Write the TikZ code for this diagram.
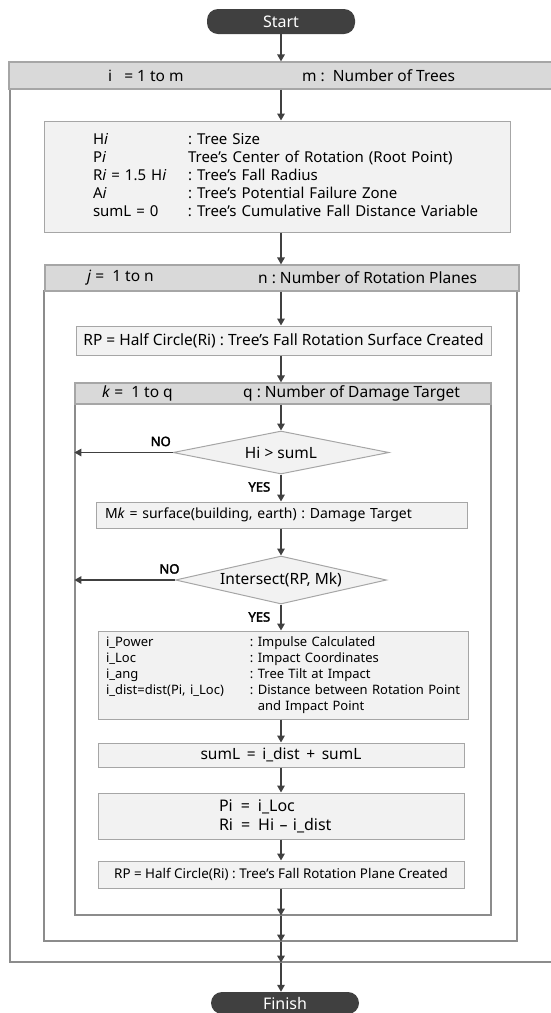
\documentclass[tikz,border=0pt]{standalone}
\usepackage{fontspec}
\setmainfont{Noto Sans}[AutoFakeBold=2.5]
\usetikzlibrary{arrows.meta,positioning,shapes.geometric}
\definecolor{termgray}{HTML}{404040}
\definecolor{hdrgray}{HTML}{D9D9D9}
\definecolor{boxgray}{HTML}{F2F2F2}
\definecolor{edgegray}{HTML}{A6A6A6}
\definecolor{framegray}{HTML}{8C8C8C}
\newcommand{\fs}[2]{\fontsize{#1}{#2}\selectfont}
\frenchspacing

\begin{document}
\begin{tikzpicture}[x=1pt, y=-1pt,
  term/.style={fill=termgray, text=white, rounded corners=11pt,
    minimum width=148pt, minimum height=25pt, inner sep=0pt,
    font=\fs{16}{18}},
  hdr/.style={fill=hdrgray, draw=edgegray, line width=1.2pt, inner sep=0pt},
  loopframe/.style={draw=framegray, line width=1.2pt, inner sep=0pt},
  box/.style={fill=boxgray, draw=edgegray, line width=1pt, inner sep=0pt,
    font=\fs{15}{18}},
  dec/.style={diamond, fill=boxgray, draw=edgegray, line width=1pt,
    inner sep=0pt, aspect=5, font=\fs{15.5}{17}},
  htext/.style={anchor=west, inner sep=0pt, font=\fs{15.5}{17}},
  yn/.style={font=\bfseries\fs{13}{15}, inner sep=1pt},
  flow/.style={draw=termgray, line width=1.6pt,
    -{Triangle[length=7pt, width=7.5pt]}}]
\useasboundingbox (0,0) rectangle (550,1013);
% loop frames
\node[loopframe, minimum width=550pt, minimum height=873pt] (oframe) at (285,525.5) {};
\node[loopframe, minimum width=473pt, minimum height=650pt] (jframe) at (280.5,616) {};
\node[loopframe, minimum width=416pt, minimum height=511pt] (kframe) at (283,659.5) {};
% loop headers
\node[hdr, minimum width=551pt, minimum height=27pt] (ihdr) at (284.5,75.5) {};
\node[htext] (iloop) at (108,75.5) {i\ \ \ =\ 1 to m};
\node[htext] (inum) at (302,75.5) {m :\ \ Number of Trees};
\node[hdr, minimum width=474pt, minimum height=26pt] (jhdr) at (282,278) {};
\node[htext] (jloop) at (87,278) {\textit{j}\ =\ \ 1 to n};
\node[htext] (jnum) at (258,278) {n : Number of Rotation Planes};
\node[hdr, minimum width=416pt, minimum height=21pt] (khdr) at (283,393.5) {};
\node[htext] (kloop) at (102,393.5) {\textit{k}\ =\ \ 1 to q};
\node[htext] (knum) at (243,393.5) {q : Number of Damage Target};
% terminals
\node[term] (start) at (281,21.5) {Start};
\node[term, minimum height=22pt] (finish) at (285,1003) {Finish};
% steps
\node[box, minimum width=466pt, minimum height=111pt, text width=368pt,
  inner xsep=49pt, align=left] (hbox) at (277,176.5) {%
  \begin{tabular}{@{}p{95pt}@{}l@{}}
  H\textit{i} & : Tree Size\\
  P\textit{i} & Tree's Center of Rotation (Root Point)\\
  R\textit{i} = 1.5 H\textit{i} & : Tree's Fall Radius\\
  A\textit{i} & : Tree's Potential Failure Zone\\
  sumL = 0 & : Tree's Cumulative Fall Distance Variable
  \end{tabular}};
\node[box, minimum width=415pt, minimum height=29pt, font=\fs{15.5}{17}]
  (rp) at (283.5,340.5)
  {RP = Half Circle(Ri) : Tree's Fall Rotation Surface Created};
\node[dec, minimum width=216pt, minimum height=43pt] (hisum) at (281,452.5)
  {Hi > sumL};
\node[box, minimum width=371pt, minimum height=26pt, text width=353pt,
  inner xsep=9pt, align=left, font=\fs{14}{16}] (mk) at (281.5,515)
  {M\textit{k} = surface(building, earth) : Damage Target};
\node[dec, minimum width=211pt, minimum height=48pt] (isect) at (281,580)
  {Intersect(RP, Mk)};
\node[box, minimum width=370pt, minimum height=88pt, text width=354pt,
  inner xsep=8pt, align=left, font=\fs{13}{16}] (impact) at (283,675) {%
  \begin{tabular}{@{}p{144pt}@{}l@{}}
  i\_Power & : Impulse Calculated\\
  i\_Loc & : Impact Coordinates\\
  i\_ang & : Tree Tilt at Impact\\
  i\_dist=dist(Pi, i\_Loc) & : Distance between Rotation Point\\
  & \hphantom{: }and Impact Point
  \end{tabular}};
\node[box, minimum width=366pt, minimum height=24pt, font=\fs{15.5}{18}]
  (suml) at (281,755)
  {sumL\ \,=\ \,i\_dist\ \,+\ \,sumL};
\node[box, minimum width=366pt, minimum height=46pt, text width=124pt,
  inner xsep=121pt, align=left, font=\fs{16}{19}] (pri) at (281,816)
  {Pi\ \,=\ \,i\_Loc\\Ri\ \,=\ \,Hi – i\_dist};
\node[box, minimum width=366pt, minimum height=27pt, font=\fs{13.4}{15}]
  (rpnew) at (281,874.5)
  {RP = Half Circle(Ri) : Tree's Fall Rotation Plane Created};
% connectors
\draw[flow] (start.south) -- (start |- ihdr.north);
\draw[flow] (start |- ihdr.south) -- (start |- hbox.north);
\draw[flow] (start |- hbox.south) -- (start |- jhdr.north);
\draw[flow] (start |- jhdr.south) -- (start |- rp.north);
\draw[flow] (start |- rp.south) -- (start |- khdr.north);
\draw[flow] (start |- khdr.south) -- (hisum.north);
\draw[flow] (hisum.south) -- (hisum.south |- mk.north)
  node[yn, pos=0.46, left=9pt] {YES};
\draw[flow] (hisum.west) -- (hisum.west -| kframe.west)
  node[yn, pos=0.12, above=4.5pt] {NO};
\draw[flow] (start |- mk.south) -- (isect.north);
\draw[flow] (isect.south) -- (isect.south |- impact.north)
  node[yn, pos=0.48, left=9pt] {YES};
\draw[flow] (isect.west) -- (isect.west -| kframe.west)
  node[yn, pos=0.055, above=4.5pt] {NO};
\draw[flow] (start |- impact.south) -- (start |- suml.north);
\draw[flow] (start |- suml.south) -- (start |- pri.north);
\draw[flow] (start |- pri.south) -- (start |- rpnew.north);
\draw[flow] (rpnew.south) -- (rpnew.south |- kframe.south);
\draw[flow] (rpnew.south |- kframe.south) -- (rpnew.south |- jframe.south);
\draw[flow] (rpnew.south |- jframe.south) -- (rpnew.south |- oframe.south);
\draw[flow] (rpnew.south |- oframe.south) -- (rpnew.south |- finish.north);
\end{tikzpicture}
\end{document}
